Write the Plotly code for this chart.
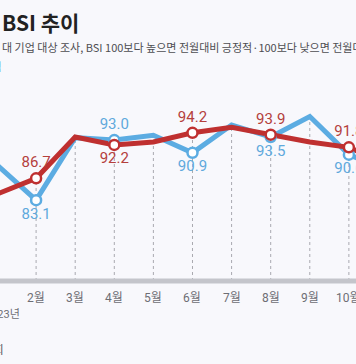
import plotly.graph_objects as go

# ---- data ----
months = list(range(1, 12))
month_labels = [f"{m}월" for m in months]
year_label = "2023년"
blue_vals = [88.9, 83.1, 93.4, 93.0, 93.8, 90.9, 95.5, 93.5, 96.9, 90.6, 88.0]
red_vals = [84.1, 86.7, 93.5, 92.2, 92.7, 94.2, 95.1, 93.9, 92.7, 91.8, 89.0]
labeled = [False, True, False, True, False, True, False, True, False, True, False]

title_text = "BSI 추이"
subtitle_text = "대 기업 대상 조사, BSI 100보다 높으면 전월대비 긍정적·100보다 낮으면 전월대비 부정적"

BLUE = "#5CACE2"
RED = "#BF3030"
BLUE_TXT = "#5FA9DC"
RED_TXT = "#B4403C"
BG = "#F8F8FC"

W, H = 356, 364
M_T, M_B = 100, 83
PLOT_H = H - M_T - M_B
YR = [69.77, 99.61]
XR = [1.0767, 10.182]

def py(pix):
    # pixel y from top -> paper coordinate
    return (H - M_B - pix) / PLOT_H

fig = go.Figure()

# dashed drop lines from data to axis
shapes = []
for m, b, r in zip(months, blue_vals, red_vals):
    shapes.append(dict(type="line", xref="x", yref="y", x0=m, x1=m, y0=YR[0], y1=max(b, r),
                       line=dict(color="#A9A9B0", width=1, dash="3px,3px"), layer="below"))
# axis base line
shapes.append(dict(type="line", xref="paper", yref="paper", x0=0, x1=1, y0=0, y1=0,
                   line=dict(color="#C4C5CB", width=5), layer="above"))

fig.add_trace(go.Scatter(x=months, y=blue_vals, mode="lines",
                         line=dict(color=BLUE, width=5), hoverinfo="skip"))
fig.add_trace(go.Scatter(x=months, y=red_vals, mode="lines",
                         line=dict(color=RED, width=5), hoverinfo="skip"))

bx, by, bt, bp = [], [], [], []
rx, ry, rt, rp = [], [], [], []
for m, b, r, l in zip(months, blue_vals, red_vals, labeled):
    if not l:
        continue
    bx.append(m); by.append(b); bt.append(f"{b:.1f}")
    rx.append(m); ry.append(r); rt.append(f"{r:.1f}")
    if b > r:
        bp.append("top center"); rp.append("bottom center")
    else:
        bp.append("bottom center"); rp.append("top center")

fig.add_trace(go.Scatter(x=bx, y=by, mode="markers+text", text=bt, textposition=bp,
                         marker=dict(size=10, color="white", line=dict(color=BLUE, width=2.5)),
                         textfont=dict(family="Roboto, Noto Sans CJK KR", size=15, color=BLUE_TXT),
                         cliponaxis=False, hoverinfo="skip"))
fig.add_trace(go.Scatter(x=rx, y=ry, mode="markers+text", text=rt, textposition=rp,
                         marker=dict(size=10, color="white", line=dict(color=RED, width=2.5)),
                         textfont=dict(family="Roboto, Noto Sans CJK KR", size=15, color=RED_TXT),
                         cliponaxis=False, hoverinfo="skip"))

annotations = []
for m, lab in zip(months, month_labels):
    annotations.append(dict(x=m, xref="x", y=py(298), yref="paper", text=lab, showarrow=False,
                            xanchor="center", yanchor="middle",
                            font=dict(family="Roboto, Noto Sans CJK KR", size=12, color="#6E6E74")))
annotations.append(dict(x=22 / W, xref="paper", y=py(314), yref="paper", text=year_label,
                        showarrow=False, xanchor="right", yanchor="middle",
                        font=dict(family="Roboto, Noto Sans CJK KR", size=11, color="#6E6E74")))
annotations.append(dict(x=0, xref="paper", y=py(22), yref="paper", text=f"<b>{title_text}</b>",
                        showarrow=False, xanchor="left", yanchor="middle",
                        font=dict(family="Noto Sans CJK KR", size=21, color="#222222")))
annotations.append(dict(x=0, xref="paper", y=py(47), yref="paper", text=subtitle_text,
                        showarrow=False, xanchor="left", yanchor="middle",
                        font=dict(family="Noto Sans CJK KR", size=11, color="#4E4E52")))
annotations.append(dict(x=4 / W, xref="paper", y=py(66), yref="paper", text="— 실적",
                        showarrow=False, xanchor="right", yanchor="middle",
                        font=dict(family="Noto Sans CJK KR", size=11, color=BLUE_TXT)))
annotations.append(dict(x=6 / W, xref="paper", y=py(349), yref="paper", text="자료: 전국경제인연합회",
                        showarrow=False, xanchor="right", yanchor="middle",
                        font=dict(family="Noto Sans CJK KR", size=11, color="#555558")))

fig.update_layout(
    width=W, height=H,
    margin=dict(l=0, r=0, t=M_T, b=M_B, pad=0),
    paper_bgcolor=BG, plot_bgcolor=BG,
    showlegend=False,
    xaxis=dict(range=XR, showgrid=False, zeroline=False, showticklabels=False, showline=False, fixedrange=True),
    yaxis=dict(range=YR, showgrid=False, zeroline=False, showticklabels=False, showline=False, fixedrange=True),
    shapes=shapes,
    annotations=annotations,
)

fig.write_html("out.html", config={"displayModeBar": False},
               post_script="document.body.style.margin='0';document.body.style.overflow='hidden';document.body.style.background='" + BG + "';")
